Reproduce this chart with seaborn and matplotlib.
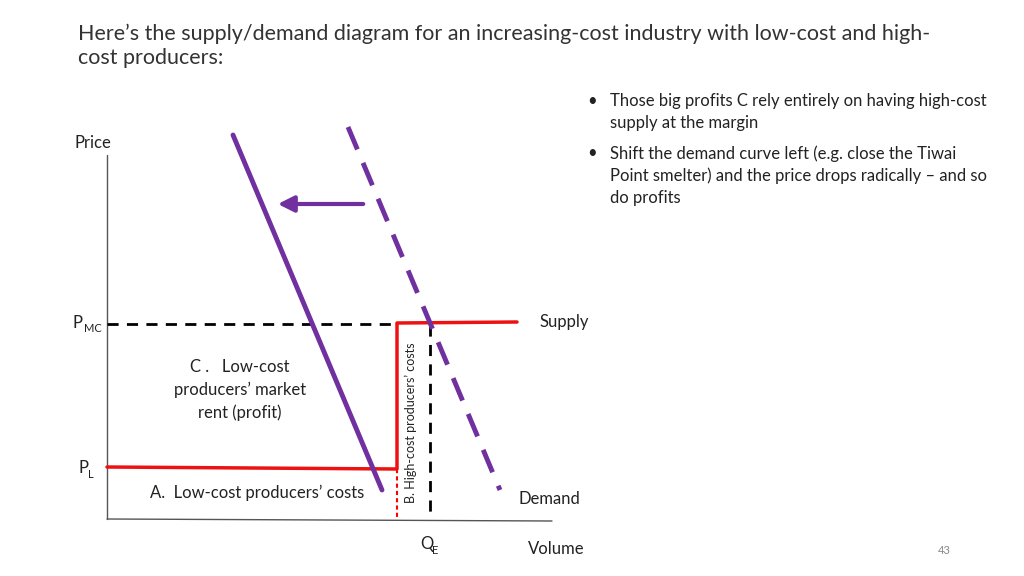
import matplotlib
matplotlib.use("Agg")
import matplotlib.pyplot as plt
import seaborn as sns

sns.set_theme(style="white", font="Lato")

# diagram geometry (slide pixel space, y down)
axis_x = [107, 107, 552]
axis_y = [155, 519, 521]
supply_x = [107, 397, 397, 517]
supply_y = [467, 469, 323, 322]
demand_x = [233, 382]
demand_y = [135, 490]
demand_old_x = [348, 500]
demand_old_y = [127, 490]
pmc_x = [107, 397]
pmc_y = [324, 324]
qe_x = [430, 430]
qe_y = [325, 519]
gap_x = [397, 397]
gap_y = [469, 519]

title = "Here\u2019s the supply/demand diagram for an increasing-cost industry with low-cost and high-\ncost producers:"
bullets = ["Those big profits C rely entirely on having high-cost\nsupply at the margin",
           "Shift the demand curve left (e.g. close the Tiwai\nPoint smelter) and the price drops radically \u2013 and so\ndo profits"]

fig = plt.figure(figsize=(10.24, 5.76), dpi=100)
ax = fig.add_axes([0, 0, 1, 1])
ax.set_xlim(0, 1024)
ax.set_ylim(576, 0)
ax.axis("off")

def line(x, y, **kw):
    sns.lineplot(x=x, y=y, ax=ax, sort=False, estimator=None, legend=False, **kw)

line(axis_x[:2], axis_y[:2], color="#555555", linewidth=1)
line(axis_x[1:], axis_y[1:], color="#555555", linewidth=1)
line(pmc_x, pmc_y, color="black", linewidth=2, linestyle=(0, (4, 3)))
line(qe_x, qe_y, color="black", linewidth=2, linestyle=(0, (4, 3)))
line(gap_x, gap_y, color="red", linewidth=1.5, linestyle=(0, (2, 1.5)))
line(supply_x, supply_y, color="#ee1111", linewidth=2.5)
line(demand_x, demand_y, color="#7030a0", linewidth=3.5)
line(demand_old_x, demand_old_y, color="#7030a0", linewidth=3.5, linestyle=(0, (5, 3)))
ax.annotate("", xy=(275, 204), xytext=(366, 204),
            arrowprops=dict(arrowstyle="-|>,head_length=0.8,head_width=0.4", color="#7030a0", lw=3))

tc = "#222222"
ax.text(78, 24, title, fontsize=15.5, color="#333333", va="top", linespacing=1.2)
ax.text(74, 143, "Price", fontsize=12, color=tc, va="center")
ax.text(73, 323, "P", fontsize=12, color=tc, va="center")
ax.text(84, 329, "MC", fontsize=8, color=tc, va="center")
ax.text(79, 468, "P", fontsize=12, color=tc, va="center")
ax.text(88, 474, "L", fontsize=8, color=tc, va="center")
ax.text(539, 322, "Supply", fontsize=12, color=tc, va="center")
ax.text(519, 499, "Demand", fontsize=12, color=tc, va="center")
ax.text(528, 549, "Volume", fontsize=12, color=tc, va="center")
ax.text(420, 544, "Q", fontsize=12, color=tc, va="center")
ax.text(432, 551, "E", fontsize=8, color=tc, va="center")
ax.text(938, 550, "43", fontsize=8, color="#888888", va="center")
ax.text(240, 390, "C .   Low-cost\nproducers\u2019 market\nrent (profit)", fontsize=12, color=tc,
        ha="center", va="center", linespacing=1.45)
ax.text(257, 493, "A.  Low-cost producers\u2019 costs", fontsize=12, color=tc, ha="center", va="center")
ax.text(411, 423, "B. High-cost producers\u2019 costs", fontsize=9, color=tc, ha="center", va="center",
        rotation=90)

by = [93, 145]
for y, b in zip(by, bullets):
    ax.text(587, y, "\u2022", fontsize=12, color=tc, va="top")
    ax.text(610, y, b, fontsize=12, color=tc, va="top", linespacing=1.45)

fig.savefig("out.png", dpi=100)
